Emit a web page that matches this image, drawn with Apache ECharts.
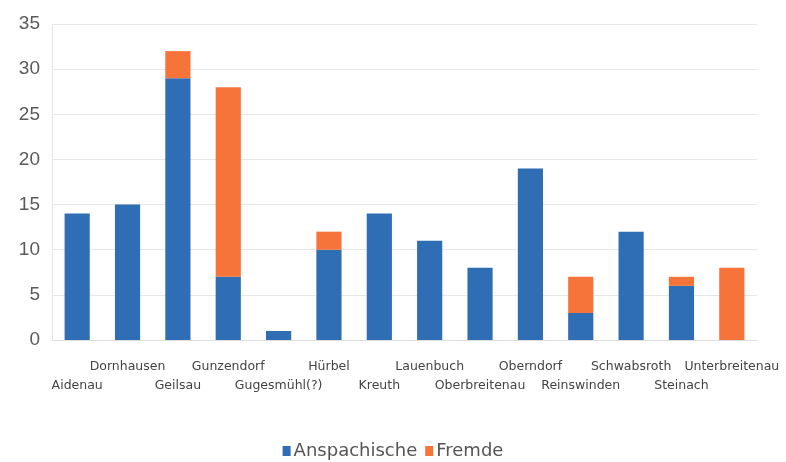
<!DOCTYPE html>
<html><head><meta charset="utf-8">
<script src="https://cdn.jsdelivr.net/npm/echarts@6/dist/echarts.min.js"></script>
<style>html,body{margin:0;padding:0;background:#fff}#c{width:786px;height:462px}</style>
</head><body><div id="c"></div>
<script>
const categories = ['Aidenau','Dornhausen','Geilsau','Gunzendorf','Gugesmühl(?)','Hürbel','Kreuth','Lauenbuch','Oberbreitenau','Oberndorf','Reinswinden','Schwabsroth','Steinach','Unterbreitenau'];
const anspachische = [14,15,29,7,1,10,14,11,8,19,3,12,6,0];
const fremde = [0,0,3,21,0,2,0,0,0,0,4,0,1,8];
const yTicks = [0,5,10,15,20,25,30,35];

const chart = echarts.init(document.getElementById('c'));
chart.setOption({
  animation:false,
  grid:{left:52,right:29,top:24,bottom:122},
  legend:{top:437,left:'center',itemWidth:8,itemHeight:10,itemGap:8,icon:'rect',
    textStyle:{fontSize:18,color:'#555',fontFamily:'DejaVu Sans, sans-serif',padding:[0,0,0,-2]},
    data:['Anspachische','Fremde']},
  xAxis:{type:'category',data:categories,
    axisLine:{lineStyle:{color:'#ddd'}},axisTick:{show:false},
    axisLabel:{interval:0,margin:17,fontSize:12.5,color:'#444',lineHeight:19,
      fontFamily:'DejaVu Sans, sans-serif',
      formatter:(v,i)=> i%2===0 ? '\n'+v : v}},
  yAxis:{type:'value',min:yTicks[0],max:yTicks[yTicks.length-1],interval:5,
    axisLine:{show:true,lineStyle:{color:'#e3e3e3'}},
    splitLine:{lineStyle:{color:'#e6e6e6'}},
    axisLabel:{fontSize:19,color:'#5a5a5a',margin:12,fontFamily:'Liberation Sans, Arial, sans-serif'}},
  series:[
    {name:'Anspachische',type:'bar',stack:'a',barWidth:'50%',data:anspachische,itemStyle:{color:'#2f6db4'}},
    {name:'Fremde',type:'bar',stack:'a',data:fremde,itemStyle:{color:'#f6733a'}}
  ]
});
</script></body></html>
